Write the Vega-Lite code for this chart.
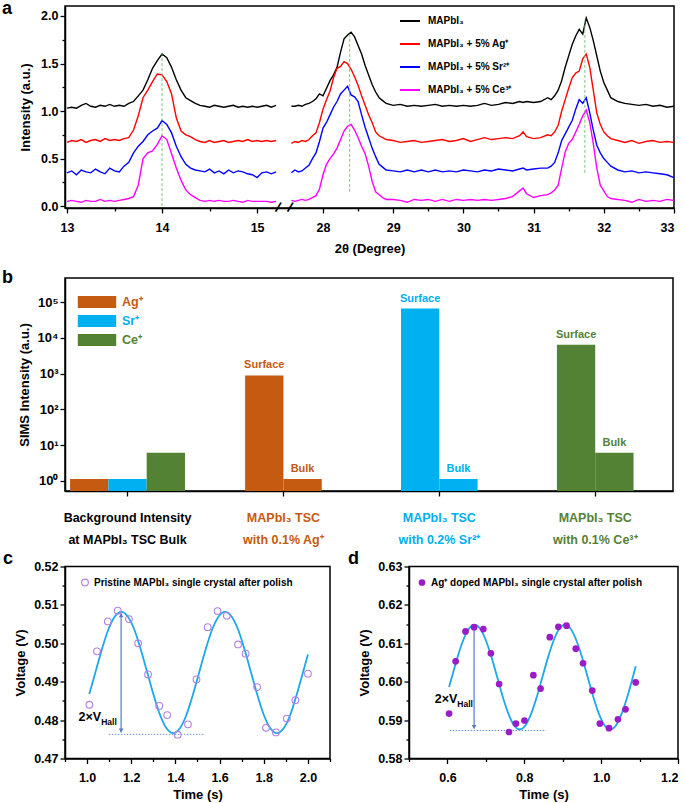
{
"$schema": "https://vega.github.io/schema/vega-lite/v6.json",
"background": "white",
"padding": {"left": 1, "top": -1, "right": 6, "bottom": 2},
"config": {
  "font": "Liberation Sans",
  "view": {"stroke": "black", "strokeWidth": 1.5},
  "axis": {"grid": false, "domainColor": "black", "domainWidth": 1.5, "tickColor": "black", "tickWidth": 1.3, "tickSize": 5, "labelFont": "Liberation Sans", "labelFontSize": 12.5, "labelFontWeight": "bold", "labelColor": "black", "labelPadding": 2, "titleFont": "Liberation Sans", "titleFontSize": 13, "titleFontWeight": "bold", "titleColor": "black"},
  "legend": {"labelFont": "Liberation Sans", "labelFontWeight": "bold", "labelColor": "black", "padding": 0, "labelLimit": 400},
  "title": {"font": "Liberation Sans", "fontSize": 18, "fontWeight": "bold", "color": "black", "anchor": "start", "frame": "group", "offset": 0, "baseline": "alphabetic"}
},
"datasets": {
  "xrd": [
    {"p":"L","x":13.0,"k":1.03,"r":0.67,"b":0.35,"m":0.05},
    {"p":"L","x":13.05,"k":1.04,"r":0.69,"b":0.37,"m":0.06},
    {"p":"L","x":13.1,"k":1.03,"r":0.68,"b":0.33,"m":0.05},
    {"p":"L","x":13.15,"k":1.06,"r":0.7,"b":0.38,"m":0.04},
    {"p":"L","x":13.2,"k":1.08,"r":0.67,"b":0.36,"m":0.06},
    {"p":"L","x":13.25,"k":1.05,"r":0.69,"b":0.35,"m":0.05},
    {"p":"L","x":13.3,"k":1.04,"r":0.7,"b":0.39,"m":0.05},
    {"p":"L","x":13.35,"k":1.06,"r":0.68,"b":0.36,"m":0.07},
    {"p":"L","x":13.4,"k":1.05,"r":0.71,"b":0.34,"m":0.05},
    {"p":"L","x":13.45,"k":1.07,"r":0.69,"b":0.4,"m":0.06},
    {"p":"L","x":13.5,"k":1.05,"r":0.7,"b":0.37,"m":0.05},
    {"p":"L","x":13.55,"k":1.06,"r":0.69,"b":0.36,"m":0.06},
    {"p":"L","x":13.6,"k":1.05,"r":0.71,"b":0.42,"m":0.07},
    {"p":"L","x":13.65,"k":1.08,"r":0.72,"b":0.46,"m":0.08},
    {"p":"L","x":13.7,"k":1.1,"r":0.8,"b":0.56,"m":0.1},
    {"p":"L","x":13.75,"k":1.16,"r":0.95,"b":0.63,"m":0.22},
    {"p":"L","x":13.8,"k":1.22,"r":1.14,"b":0.68,"m":0.5},
    {"p":"L","x":13.85,"k":1.33,"r":1.22,"b":0.75,"m":0.56},
    {"p":"L","x":13.9,"k":1.45,"r":1.31,"b":0.79,"m":0.58},
    {"p":"L","x":13.95,"k":1.53,"r":1.39,"b":0.82,"m":0.65},
    {"p":"L","x":14.0,"k":1.6,"r":1.38,"b":0.9,"m":0.74},
    {"p":"L","x":14.05,"k":1.56,"r":1.31,"b":0.86,"m":0.7},
    {"p":"L","x":14.1,"k":1.46,"r":1.18,"b":0.77,"m":0.55},
    {"p":"L","x":14.15,"k":1.33,"r":0.93,"b":0.63,"m":0.4},
    {"p":"L","x":14.2,"k":1.22,"r":0.79,"b":0.52,"m":0.27},
    {"p":"L","x":14.25,"k":1.14,"r":0.75,"b":0.44,"m":0.17},
    {"p":"L","x":14.3,"k":1.11,"r":0.73,"b":0.4,"m":0.12},
    {"p":"L","x":14.35,"k":1.08,"r":0.7,"b":0.38,"m":0.09},
    {"p":"L","x":14.4,"k":1.06,"r":0.68,"b":0.37,"m":0.06},
    {"p":"L","x":14.45,"k":1.05,"r":0.67,"b":0.36,"m":0.05},
    {"p":"L","x":14.5,"k":1.04,"r":0.69,"b":0.39,"m":0.06},
    {"p":"L","x":14.55,"k":1.06,"r":0.67,"b":0.35,"m":0.05},
    {"p":"L","x":14.6,"k":1.05,"r":0.68,"b":0.37,"m":0.06},
    {"p":"L","x":14.65,"k":1.04,"r":0.69,"b":0.34,"m":0.05},
    {"p":"L","x":14.7,"k":1.05,"r":0.67,"b":0.38,"m":0.05},
    {"p":"L","x":14.75,"k":1.06,"r":0.68,"b":0.35,"m":0.06},
    {"p":"L","x":14.8,"k":1.04,"r":0.69,"b":0.37,"m":0.05},
    {"p":"L","x":14.85,"k":1.05,"r":0.68,"b":0.36,"m":0.04},
    {"p":"L","x":14.9,"k":1.04,"r":0.7,"b":0.34,"m":0.06},
    {"p":"L","x":14.95,"k":1.05,"r":0.68,"b":0.33,"m":0.05},
    {"p":"L","x":15.0,"k":1.04,"r":0.69,"b":0.3,"m":0.05},
    {"p":"L","x":15.05,"k":1.05,"r":0.68,"b":0.35,"m":0.05},
    {"p":"L","x":15.1,"k":1.06,"r":0.69,"b":0.36,"m":0.05},
    {"p":"L","x":15.15,"k":1.04,"r":0.68,"b":0.34,"m":0.04},
    {"p":"L","x":15.2,"k":1.06,"r":0.69,"b":0.36,"m":0.05},
    {"p":"R","x":27.55,"k":1.05,"r":0.66,"b":0.35,"m":0.06},
    {"p":"R","x":27.6,"k":1.05,"r":0.68,"b":0.38,"m":0.05},
    {"p":"R","x":27.65,"k":1.06,"r":0.67,"b":0.36,"m":0.06},
    {"p":"R","x":27.7,"k":1.05,"r":0.69,"b":0.37,"m":0.07},
    {"p":"R","x":27.75,"k":1.07,"r":0.68,"b":0.4,"m":0.06},
    {"p":"R","x":27.8,"k":1.08,"r":0.7,"b":0.43,"m":0.07},
    {"p":"R","x":27.85,"k":1.1,"r":0.74,"b":0.5,"m":0.09},
    {"p":"R","x":27.9,"k":1.13,"r":0.77,"b":0.56,"m":0.11},
    {"p":"R","x":27.95,"k":1.18,"r":0.88,"b":0.68,"m":0.18},
    {"p":"R","x":28.0,"k":1.16,"r":1.02,"b":0.82,"m":0.33},
    {"p":"R","x":28.05,"k":1.24,"r":1.12,"b":0.88,"m":0.44},
    {"p":"R","x":28.1,"k":1.32,"r":1.21,"b":0.96,"m":0.5},
    {"p":"R","x":28.15,"k":1.38,"r":1.35,"b":1.04,"m":0.55},
    {"p":"R","x":28.2,"k":1.46,"r":1.45,"b":1.1,"m":0.61},
    {"p":"R","x":28.25,"k":1.62,"r":1.47,"b":1.18,"m":0.7},
    {"p":"R","x":28.3,"k":1.76,"r":1.52,"b":1.22,"m":0.79},
    {"p":"R","x":28.35,"k":1.8,"r":1.5,"b":1.26,"m":0.84},
    {"p":"R","x":28.4,"k":1.83,"r":1.44,"b":1.17,"m":0.86},
    {"p":"R","x":28.45,"k":1.78,"r":1.36,"b":1.15,"m":0.8},
    {"p":"R","x":28.5,"k":1.69,"r":1.27,"b":1.1,"m":0.72},
    {"p":"R","x":28.55,"k":1.6,"r":1.16,"b":0.96,"m":0.63},
    {"p":"R","x":28.6,"k":1.48,"r":1.06,"b":0.83,"m":0.55},
    {"p":"R","x":28.65,"k":1.38,"r":0.96,"b":0.72,"m":0.42},
    {"p":"R","x":28.7,"k":1.28,"r":0.88,"b":0.61,"m":0.26},
    {"p":"R","x":28.75,"k":1.2,"r":0.78,"b":0.52,"m":0.15},
    {"p":"R","x":28.8,"k":1.14,"r":0.74,"b":0.44,"m":0.12},
    {"p":"R","x":28.85,"k":1.11,"r":0.72,"b":0.41,"m":0.09},
    {"p":"R","x":28.9,"k":1.08,"r":0.7,"b":0.38,"m":0.07},
    {"p":"R","x":29.0,"k":1.06,"r":0.69,"b":0.37,"m":0.07},
    {"p":"R","x":29.1,"k":1.07,"r":0.67,"b":0.36,"m":0.06},
    {"p":"R","x":29.2,"k":1.05,"r":0.68,"b":0.38,"m":0.04},
    {"p":"R","x":29.3,"k":1.06,"r":0.69,"b":0.36,"m":0.07},
    {"p":"R","x":29.4,"k":1.05,"r":0.67,"b":0.38,"m":0.06},
    {"p":"R","x":29.5,"k":1.06,"r":0.68,"b":0.36,"m":0.07},
    {"p":"R","x":29.6,"k":1.07,"r":0.69,"b":0.38,"m":0.05},
    {"p":"R","x":29.7,"k":1.05,"r":0.7,"b":0.36,"m":0.07},
    {"p":"R","x":29.8,"k":1.06,"r":0.68,"b":0.37,"m":0.05},
    {"p":"R","x":29.9,"k":1.05,"r":0.69,"b":0.36,"m":0.07},
    {"p":"R","x":30.0,"k":1.06,"r":0.71,"b":0.38,"m":0.06},
    {"p":"R","x":30.1,"k":1.05,"r":0.68,"b":0.37,"m":0.07},
    {"p":"R","x":30.2,"k":1.06,"r":0.7,"b":0.36,"m":0.06},
    {"p":"R","x":30.3,"k":1.08,"r":0.72,"b":0.38,"m":0.07},
    {"p":"R","x":30.4,"k":1.06,"r":0.7,"b":0.37,"m":0.06},
    {"p":"R","x":30.5,"k":1.07,"r":0.71,"b":0.39,"m":0.07},
    {"p":"R","x":30.6,"k":1.09,"r":0.72,"b":0.38,"m":0.08},
    {"p":"R","x":30.7,"k":1.08,"r":0.71,"b":0.37,"m":0.1},
    {"p":"R","x":30.8,"k":1.1,"r":0.74,"b":0.39,"m":0.16},
    {"p":"R","x":30.85,"k":1.09,"r":0.78,"b":0.4,"m":0.19},
    {"p":"R","x":30.9,"k":1.1,"r":0.73,"b":0.38,"m":0.13},
    {"p":"R","x":31.0,"k":1.09,"r":0.71,"b":0.39,"m":0.09},
    {"p":"R","x":31.1,"k":1.1,"r":0.72,"b":0.4,"m":0.11},
    {"p":"R","x":31.2,"k":1.14,"r":0.75,"b":0.4,"m":0.12},
    {"p":"R","x":31.25,"k":1.12,"r":0.74,"b":0.42,"m":0.14},
    {"p":"R","x":31.3,"k":1.16,"r":0.78,"b":0.46,"m":0.17},
    {"p":"R","x":31.35,"k":1.22,"r":0.85,"b":0.56,"m":0.22},
    {"p":"R","x":31.4,"k":1.32,"r":1.0,"b":0.69,"m":0.4},
    {"p":"R","x":31.45,"k":1.46,"r":1.12,"b":0.76,"m":0.57},
    {"p":"R","x":31.5,"k":1.58,"r":1.24,"b":0.83,"m":0.66},
    {"p":"R","x":31.55,"k":1.7,"r":1.35,"b":0.9,"m":0.7},
    {"p":"R","x":31.6,"k":1.79,"r":1.4,"b":1.02,"m":0.78},
    {"p":"R","x":31.65,"k":1.86,"r":1.42,"b":1.12,"m":0.86},
    {"p":"R","x":31.7,"k":1.81,"r":1.55,"b":1.08,"m":0.95},
    {"p":"R","x":31.75,"k":1.98,"r":1.6,"b":1.14,"m":1.01},
    {"p":"R","x":31.8,"k":1.88,"r":1.46,"b":0.98,"m":0.88},
    {"p":"R","x":31.85,"k":1.74,"r":1.22,"b":0.8,"m":0.66},
    {"p":"R","x":31.9,"k":1.58,"r":0.98,"b":0.64,"m":0.4},
    {"p":"R","x":31.95,"k":1.42,"r":0.86,"b":0.56,"m":0.22},
    {"p":"R","x":32.0,"k":1.3,"r":0.78,"b":0.5,"m":0.16},
    {"p":"R","x":32.05,"k":1.22,"r":0.74,"b":0.46,"m":0.1},
    {"p":"R","x":32.1,"k":1.14,"r":0.71,"b":0.42,"m":0.08},
    {"p":"R","x":32.2,"k":1.1,"r":0.69,"b":0.38,"m":0.07},
    {"p":"R","x":32.3,"k":1.08,"r":0.67,"b":0.36,"m":0.06},
    {"p":"R","x":32.4,"k":1.07,"r":0.69,"b":0.37,"m":0.04},
    {"p":"R","x":32.5,"k":1.06,"r":0.66,"b":0.35,"m":0.07},
    {"p":"R","x":32.6,"k":1.07,"r":0.68,"b":0.36,"m":0.05},
    {"p":"R","x":32.7,"k":1.05,"r":0.69,"b":0.35,"m":0.06},
    {"p":"R","x":32.8,"k":1.06,"r":0.67,"b":0.34,"m":0.05},
    {"p":"R","x":32.9,"k":1.04,"r":0.68,"b":0.33,"m":0.07},
    {"p":"R","x":33.0,"k":1.05,"r":0.67,"b":0.3,"m":0.06}
  ],
  "sims": [
    {"g":"bg","ion":"Ag⁺","pos":"Ag","val":1.14},
    {"g":"bg","ion":"Sr⁺","pos":"Sr","val":1.14},
    {"g":"bg","ion":"Ce⁺","pos":"Ce","val":6.2},
    {"g":"ag","ion":"Ag⁺","pos":"Surface","val":890},
    {"g":"ag","ion":"Ag⁺","pos":"Bulk","val":1.14},
    {"g":"sr","ion":"Sr⁺","pos":"Surface","val":66000},
    {"g":"sr","ion":"Sr⁺","pos":"Bulk","val":1.14},
    {"g":"ce","ion":"Ce⁺","pos":"Surface","val":6450},
    {"g":"ce","ion":"Ce⁺","pos":"Bulk","val":6.2}
  ],
  "hc": [
    {"s":"Pristine MAPbI₃ single crystal after polish","t":1.0104,"v":0.484},
    {"s":"Pristine MAPbI₃ single crystal after polish","t":1.0448,"v":0.4979},
    {"s":"Pristine MAPbI₃ single crystal after polish","t":1.094,"v":0.5057},
    {"s":"Pristine MAPbI₃ single crystal after polish","t":1.1388,"v":0.5085},
    {"s":"Pristine MAPbI₃ single crystal after polish","t":1.1896,"v":0.5063},
    {"s":"Pristine MAPbI₃ single crystal after polish","t":1.2313,"v":0.5},
    {"s":"Pristine MAPbI₃ single crystal after polish","t":1.2761,"v":0.4919},
    {"s":"Pristine MAPbI₃ single crystal after polish","t":1.3269,"v":0.4837},
    {"s":"Pristine MAPbI₃ single crystal after polish","t":1.3627,"v":0.4813},
    {"s":"Pristine MAPbI₃ single crystal after polish","t":1.4104,"v":0.4762},
    {"s":"Pristine MAPbI₃ single crystal after polish","t":1.4567,"v":0.4789},
    {"s":"Pristine MAPbI₃ single crystal after polish","t":1.4955,"v":0.4906},
    {"s":"Pristine MAPbI₃ single crystal after polish","t":1.5463,"v":0.5042},
    {"s":"Pristine MAPbI₃ single crystal after polish","t":1.591,"v":0.5084},
    {"s":"Pristine MAPbI₃ single crystal after polish","t":1.6328,"v":0.5072},
    {"s":"Pristine MAPbI₃ single crystal after polish","t":1.6836,"v":0.4997},
    {"s":"Pristine MAPbI₃ single crystal after polish","t":1.7179,"v":0.4973},
    {"s":"Pristine MAPbI₃ single crystal after polish","t":1.7701,"v":0.4886},
    {"s":"Pristine MAPbI₃ single crystal after polish","t":1.8104,"v":0.478},
    {"s":"Pristine MAPbI₃ single crystal after polish","t":1.8552,"v":0.4768},
    {"s":"Pristine MAPbI₃ single crystal after polish","t":1.9045,"v":0.4804},
    {"s":"Pristine MAPbI₃ single crystal after polish","t":1.9433,"v":0.4852},
    {"s":"Pristine MAPbI₃ single crystal after polish","t":2.0,"v":0.4921}
  ],
  "hcfit": [
    {"t":1.01,"v":0.4868},{"t":1.0375,"v":0.4924},{"t":1.0669,"v":0.4984},{"t":1.0963,"v":0.5036},{"t":1.1256,"v":0.507},{"t":1.155,"v":0.5082},{"t":1.1844,"v":0.507},{"t":1.2138,"v":0.5036},{"t":1.2431,"v":0.4984},{"t":1.2725,"v":0.4924},{"t":1.3019,"v":0.4864},{"t":1.3313,"v":0.4812},{"t":1.3606,"v":0.4778},{"t":1.39,"v":0.4766},{"t":1.4194,"v":0.4778},{"t":1.4488,"v":0.4812},{"t":1.4781,"v":0.4864},{"t":1.5075,"v":0.4924},{"t":1.5369,"v":0.4984},{"t":1.5663,"v":0.5036},{"t":1.5956,"v":0.507},{"t":1.625,"v":0.5082},{"t":1.6544,"v":0.507},{"t":1.6838,"v":0.5036},{"t":1.7131,"v":0.4984},{"t":1.7425,"v":0.4924},{"t":1.7719,"v":0.4864},{"t":1.8013,"v":0.4812},{"t":1.8306,"v":0.4778},{"t":1.86,"v":0.4766},{"t":1.8894,"v":0.4778},{"t":1.9188,"v":0.4812},{"t":1.9481,"v":0.4864},{"t":1.9775,"v":0.4924},{"t":2.0,"v":0.4971}
  ],
  "hd": [
    {"s":"Ag⁺ doped MAPbI₃ single crystal after polish","t":0.6043,"v":0.5917},
    {"s":"Ag⁺ doped MAPbI₃ single crystal after polish","t":0.6214,"v":0.6053},
    {"s":"Ag⁺ doped MAPbI₃ single crystal after polish","t":0.6471,"v":0.6131},
    {"s":"Ag⁺ doped MAPbI₃ single crystal after polish","t":0.6694,"v":0.6142},
    {"s":"Ag⁺ doped MAPbI₃ single crystal after polish","t":0.6934,"v":0.6137},
    {"s":"Ag⁺ doped MAPbI₃ single crystal after polish","t":0.7131,"v":0.6074},
    {"s":"Ag⁺ doped MAPbI₃ single crystal after polish","t":0.7345,"v":0.5994},
    {"s":"Ag⁺ doped MAPbI₃ single crystal after polish","t":0.7602,"v":0.5869},
    {"s":"Ag⁺ doped MAPbI₃ single crystal after polish","t":0.7782,"v":0.5891},
    {"s":"Ag⁺ doped MAPbI₃ single crystal after polish","t":0.8004,"v":0.5899},
    {"s":"Ag⁺ doped MAPbI₃ single crystal after polish","t":0.8236,"v":0.6017},
    {"s":"Ag⁺ doped MAPbI₃ single crystal after polish","t":0.8424,"v":0.5982},
    {"s":"Ag⁺ doped MAPbI₃ single crystal after polish","t":0.8664,"v":0.6116},
    {"s":"Ag⁺ doped MAPbI₃ single crystal after polish","t":0.8887,"v":0.6143},
    {"s":"Ag⁺ doped MAPbI₃ single crystal after polish","t":0.91,"v":0.6146},
    {"s":"Ag⁺ doped MAPbI₃ single crystal after polish","t":0.934,"v":0.6086},
    {"s":"Ag⁺ doped MAPbI₃ single crystal after polish","t":0.9529,"v":0.6048},
    {"s":"Ag⁺ doped MAPbI₃ single crystal after polish","t":0.9769,"v":0.5977},
    {"s":"Ag⁺ doped MAPbI₃ single crystal after polish","t":0.9966,"v":0.5891},
    {"s":"Ag⁺ doped MAPbI₃ single crystal after polish","t":1.0205,"v":0.5879},
    {"s":"Ag⁺ doped MAPbI₃ single crystal after polish","t":1.0437,"v":0.5902},
    {"s":"Ag⁺ doped MAPbI₃ single crystal after polish","t":1.0634,"v":0.5928},
    {"s":"Ag⁺ doped MAPbI₃ single crystal after polish","t":1.0899,"v":0.5998}
  ],
  "hdfit": [
    {"t":0.6043,"v":0.5986},{"t":0.6116,"v":0.6012},{"t":0.6263,"v":0.6064},{"t":0.6411,"v":0.6108},{"t":0.6558,"v":0.6138},{"t":0.6705,"v":0.6148},{"t":0.6852,"v":0.6138},{"t":0.6999,"v":0.6108},{"t":0.7147,"v":0.6064},{"t":0.7294,"v":0.6012},{"t":0.7441,"v":0.596},{"t":0.7588,"v":0.5916},{"t":0.7735,"v":0.5886},{"t":0.7883,"v":0.5876},{"t":0.803,"v":0.5886},{"t":0.8177,"v":0.5916},{"t":0.8324,"v":0.596},{"t":0.8471,"v":0.6012},{"t":0.8619,"v":0.6064},{"t":0.8766,"v":0.6108},{"t":0.8913,"v":0.6138},{"t":0.906,"v":0.6148},{"t":0.9207,"v":0.6138},{"t":0.9354,"v":0.6108},{"t":0.9502,"v":0.6064},{"t":0.9649,"v":0.6012},{"t":0.9796,"v":0.596},{"t":0.9943,"v":0.5916},{"t":1.009,"v":0.5886},{"t":1.0238,"v":0.5876},{"t":1.0385,"v":0.5886},{"t":1.0532,"v":0.5916},{"t":1.0679,"v":0.596},{"t":1.0826,"v":0.6012},{"t":1.09,"v":0.604}
  ]
},
"spacing": 1.5,
"bounds": "full",
"resolve": {"scale": {"color": "independent"}},
"vconcat": [
  {
    "spacing": 70,
    "bounds": "flush",
    "resolve": {"scale": {"color": "independent"}},
    "vconcat": [
      {
        "width": 609, "height": 202,
        "title": {"text": "a", "dx": -63, "dy": 12, "offset": 0},
        "resolve": {"axis": {"x": "independent", "y": "independent"}},
        "layer": [
          {
            "data": {"name": "xrd"},
            "transform": [{"fold": ["k","r","b","m"], "as": ["s","v"]}],
            "mark": {"type": "line", "strokeWidth": 1.4},
            "encoding": {
              "x": {"field": "x", "type": "quantitative", "scale": {"domain": [12.979,15.22,27.53,33], "range": [0,213,225,609], "nice": false, "zero": false}, "axis": {"orient": "bottom", "values": [13,14,15,28,29,30,31,32,33], "title": "2θ (Degree)", "titlePadding": 9, "labelPadding": 8}},
              "y": {"field": "v", "type": "quantitative", "scale": {"domain": [-0.02, 2.105], "nice": false, "zero": false}, "axis": {"orient": "left", "values": [0,0.5,1,1.5,2], "format": ".1f", "title": "Intensity (a.u.)", "titlePadding": 8}},
              "color": {"field": "s", "type": "nominal", "scale": {"domain": ["k","r","b","m"], "range": ["#000000","#ff0000","#0000ff","#ff00ff"]}, "legend": {"orient": "none", "legendX": 334, "legendY": 4, "title": null, "symbolType": "stroke", "symbolSize": 400, "symbolStrokeWidth": 2, "labelFontSize": 10, "rowPadding": 7, "labelOffset": 7, "labelExpr": "{'k':'MAPbI₃','r':'MAPbI₃ + 5% Ag⁺','b':'MAPbI₃ + 5% Sr²⁺','m':'MAPbI₃ + 5% Ce³⁺'}[datum.value]"}},
              "detail": {"field": "p", "type": "nominal"}
            }
          },
          {
            "data": {"values": [{"x":14.0,"y":0.0,"y2":1.6},{"x":28.38,"y":0.15,"y2":1.8},{"x":31.73,"y":0.35,"y2":1.97}]},
            "mark": {"type": "rule", "color": "#6cbf6c", "strokeDash": [3,2], "strokeWidth": 0.9},
            "encoding": {
              "x": {"field": "x", "type": "quantitative", "scale": {"domain": [12.979,15.22,27.53,33], "range": [0,213,225,609], "nice": false, "zero": false}, "axis": {"orient": "bottom", "values": [13.5,14.5,28.5,29.5,30.5,31.5,32.5], "labels": false, "domain": false, "tickSize": 3, "title": null}},
              "y": {"field": "y", "type": "quantitative", "scale": {"domain": [-0.02, 2.105], "nice": false, "zero": false}, "axis": {"orient": "left", "values": [0.25,0.75,1.25,1.75], "labels": false, "domain": false, "tickSize": 3, "title": null}},
              "y2": {"field": "y2"}
            }
          },
          {
            "data": {"values": [{"x":15.22,"y":-0.02},{"x":27.53,"y":-0.02}]},
            "mark": {"type": "text", "text": "/", "fontSize": 14, "fontWeight": "bold", "angle": 20, "baseline": "middle"},
            "encoding": {
              "x": {"field": "x", "type": "quantitative", "scale": {"domain": [12.979,15.22,27.53,33], "range": [0,213,225,609], "nice": false, "zero": false}, "axis": null},
              "y": {"field": "y", "type": "quantitative", "scale": {"domain": [-0.02, 2.105], "nice": false, "zero": false}, "axis": null}
            }
          }
        ]
      },
      {
        "width": 608, "height": 213,
        "title": {"text": "b", "dx": -63, "dy": 9, "offset": 0},
        "data": {"name": "sims"},
        "resolve": {"scale": {"xOffset": "independent"}},
        "layer": [
          {
            "transform": [{"filter": "datum.g == 'bg'"}],
            "mark": {"type": "bar"},
            "encoding": {
              "x": {"field": "g", "type": "nominal", "sort": ["bg","ag","sr","ce"], "scale": {"domain": ["bg","ag","sr","ce"], "paddingInner": 0.263, "paddingOuter": 0.0815, "align": 0.2}, "axis": {"title": null, "labelAngle": 0, "labelExpr": "{'bg':['Background Intensity','at MAPbI₃ TSC Bulk'],'ag':['MAPbI₃ TSC','with 0.1% Ag⁺'],'sr':['MAPbI₃ TSC','with 0.2% Sr²⁺'],'ce':['MAPbI₃ TSC','with 0.1% Ce³⁺']}[datum.value]", "labelColor": {"condition": [{"test": "datum.value == 'ag'", "value": "#C55A11"}, {"test": "datum.value == 'sr'", "value": "#00B0F0"}, {"test": "datum.value == 'ce'", "value": "#548235"}], "value": "black"}, "labelLineHeight": 21.5, "labelPadding": 15.5, "labelBaseline": "top", "labelFontSize": 12.5}},
              "xOffset": {"field": "ion", "type": "nominal", "scale": {"domain": ["Ag⁺","Sr⁺","Ce⁺"], "paddingInner": 0, "paddingOuter": 0}},
              "y": {"field": "val", "type": "quantitative", "scale": {"type": "log", "domain": [0.525, 470000], "nice": false}, "axis": {"values": [1,10,100,1000,10000,100000], "labelExpr": "'10' + ['⁰','¹','²','³','⁴','⁵'][round(log(datum.value)/LN10)]", "title": "SIMS Intensity (a.u.)", "labelFontSize": 13, "titlePadding": 6}},
              "y2": {"datum": 0.525},
              "color": {"field": "ion", "type": "nominal", "scale": {"domain": ["Ag⁺","Sr⁺","Ce⁺"], "range": ["#C55A11","#00B0F0","#548235"]}, "legend": {"orient": "none", "legendX": 20, "legendY": 12, "title": null, "symbolType": "M-1.6,-0.5H1.6V0.5H-1.6Z", "symbolSize": 576, "symbolStrokeWidth": 0, "symbolOpacity": 1, "labelFontSize": 12.5, "labelOffset": 13, "rowPadding": -4, "encode": {"labels": {"update": {"fill": {"signal": "datum.value == 'Ag⁺' ? '#C55A11' : datum.value == 'Sr⁺' ? '#00B0F0' : '#548235'"}}}}}}
            }
          },
          {
            "transform": [{"filter": "datum.g != 'bg'"}],
            "encoding": {
              "x": {"field": "g", "type": "nominal", "sort": ["bg","ag","sr","ce"], "scale": {"domain": ["bg","ag","sr","ce"], "paddingInner": 0.263, "paddingOuter": 0.0815, "align": 0.2}},
              "xOffset": {"field": "pos", "type": "nominal", "scale": {"domain": ["Surface","Bulk"], "paddingInner": 0, "paddingOuter": 0.5}},
              "y": {"field": "val", "type": "quantitative", "scale": {"type": "log", "domain": [0.525, 470000], "nice": false}},
              "color": {"field": "ion", "type": "nominal", "scale": {"domain": ["Ag⁺","Sr⁺","Ce⁺"], "range": ["#C55A11","#00B0F0","#548235"]}}
            },
            "layer": [
              {"mark": {"type": "bar"}, "encoding": {"y2": {"datum": 0.525}}},
              {"mark": {"type": "text", "fontWeight": "bold", "fontSize": 11, "dy": -7, "baseline": "alphabetic"}, "encoding": {"text": {"field": "pos"}}}
            ]
          }
        ]
      }
    ]
  },
  {
    "spacing": 79,
    "bounds": "flush",
    "resolve": {"scale": {"color": "independent"}},
    "hconcat": [
      {
        "width": 265, "height": 192,
        "title": {"text": "c", "dx": -62, "dy": 7, "offset": 0},
        "resolve": {"axis": {"x": "independent", "y": "independent"}},
        "layer": [
          {
            "data": {"name": "hcfit"},
            "mark": {"type": "line", "interpolate": "monotone", "color": "#1EA7EA", "strokeWidth": 1.8},
            "encoding": {
              "x": {"field": "t", "type": "quantitative", "scale": {"domain": [0.9, 2.1], "nice": false, "zero": false}, "axis": {"orient": "bottom", "values": [1.0,1.2,1.4,1.6,1.8,2.0], "format": ".1f", "title": "Time (s)", "labelPadding": 8, "titlePadding": 4}},
              "y": {"field": "v", "type": "quantitative", "scale": {"domain": [0.47, 0.52], "nice": false, "zero": false}, "axis": {"orient": "left", "values": [0.47,0.48,0.49,0.5,0.51,0.52], "format": ".2f", "title": "Voltage (V)", "titlePadding": 6}}
            }
          },
          {
            "data": {"values": [{"t":1.154,"v":0.5078,"v2":0.4768}]},
            "mark": {"type": "rule", "color": "#5a78c8", "strokeWidth": 1.2},
            "encoding": {
              "x": {"field": "t", "type": "quantitative", "scale": {"domain": [0.9, 2.1], "nice": false, "zero": false}, "axis": {"orient": "bottom", "values": [0.9,1.1,1.3,1.5,1.7,1.9,2.1], "labels": false, "domain": false, "tickSize": 3, "title": null}},
              "y": {"field": "v", "type": "quantitative", "scale": {"domain": [0.47, 0.52], "nice": false, "zero": false}, "axis": {"orient": "left", "values": [0.475,0.485,0.495,0.505,0.515], "labels": false, "domain": false, "tickSize": 3, "title": null}},
              "y2": {"field": "v2"}
            }
          },
          {
            "data": {"values": [{"t":1.154,"v":0.5073,"sh":"triangle-up"},{"t":1.154,"v":0.4773,"sh":"triangle-down"}]},
            "mark": {"type": "point", "filled": true, "size": 22, "color": "#5a78c8", "opacity": 1},
            "encoding": {
              "x": {"field": "t", "type": "quantitative", "axis": null},
              "y": {"field": "v", "type": "quantitative", "axis": null},
              "shape": {"field": "sh", "type": "nominal", "scale": null, "legend": null}
            }
          },
          {
            "data": {"values": [{"t":1.0985,"t2":1.534,"v":0.4763}]},
            "mark": {"type": "rule", "color": "#6a8fd8", "strokeWidth": 1, "strokeDash": [1.5,1.5]},
            "encoding": {
              "x": {"field": "t", "type": "quantitative", "axis": null},
              "x2": {"field": "t2"},
              "y": {"field": "v", "type": "quantitative", "axis": null}
            }
          },
          {
            "data": {"name": "hc"},
            "mark": {"type": "point", "shape": "circle", "filled": false, "size": 45, "strokeWidth": 1.1, "opacity": 1},
            "encoding": {
              "x": {"field": "t", "type": "quantitative", "axis": null},
              "y": {"field": "v", "type": "quantitative", "axis": null},
              "color": {"field": "s", "type": "nominal", "scale": {"range": ["#B57EE5"]}, "legend": {"orient": "none", "legendX": 15, "legendY": 11, "title": null, "labelFontSize": 10, "labelOffset": 4, "symbolSize": 45, "symbolStrokeWidth": 1.1}}
            }
          },
          {
            "data": {"values": [{"t":1.064,"v":0.4808}]},
            "mark": {"type": "text", "text": "2×V", "align": "right", "baseline": "middle", "fontSize": 12.5, "fontWeight": "bold"},
            "encoding": {
              "x": {"field": "t", "type": "quantitative", "axis": null},
              "y": {"field": "v", "type": "quantitative", "axis": null}
            }
          },
          {
            "data": {"values": [{"t":1.064,"v":0.4808}]},
            "mark": {"type": "text", "text": "Hall", "align": "left", "baseline": "middle", "fontSize": 8.5, "fontWeight": "bold", "dy": 5},
            "encoding": {
              "x": {"field": "t", "type": "quantitative", "axis": null},
              "y": {"field": "v", "type": "quantitative", "axis": null}
            }
          }
        ]
      },
      {
        "width": 269, "height": 192,
        "title": {"text": "d", "dx": -61, "dy": 7, "offset": 0},
        "resolve": {"axis": {"x": "independent", "y": "independent"}},
        "layer": [
          {
            "data": {"name": "hdfit"},
            "mark": {"type": "line", "interpolate": "monotone", "color": "#1EA7EA", "strokeWidth": 1.8},
            "encoding": {
              "x": {"field": "t", "type": "quantitative", "scale": {"domain": [0.5, 1.2], "nice": false, "zero": false}, "axis": {"orient": "bottom", "values": [0.6,0.8,1.0,1.2], "format": ".1f", "title": "Time (s)", "labelPadding": 8, "titlePadding": 4}},
              "y": {"field": "v", "type": "quantitative", "scale": {"domain": [0.58, 0.63], "nice": false, "zero": false}, "axis": {"orient": "left", "values": [0.58,0.59,0.6,0.61,0.62,0.63], "format": ".2f", "title": "Voltage (V)", "titlePadding": 6}}
            }
          },
          {
            "data": {"values": [{"t":0.6694,"v":0.6144,"v2":0.5878}]},
            "mark": {"type": "rule", "color": "#5a78c8", "strokeWidth": 1.2},
            "encoding": {
              "x": {"field": "t", "type": "quantitative", "scale": {"domain": [0.5, 1.2], "nice": false, "zero": false}, "axis": {"orient": "bottom", "values": [0.5,0.7,0.9,1.1], "labels": false, "domain": false, "tickSize": 3, "title": null}},
              "y": {"field": "v", "type": "quantitative", "scale": {"domain": [0.58, 0.63], "nice": false, "zero": false}, "axis": {"orient": "left", "values": [0.585,0.595,0.605,0.615,0.625], "labels": false, "domain": false, "tickSize": 3, "title": null}},
              "y2": {"field": "v2"}
            }
          },
          {
            "data": {"values": [{"t":0.6694,"v":0.5882,"sh":"triangle-down"}]},
            "mark": {"type": "point", "filled": true, "size": 22, "color": "#5a78c8", "opacity": 1},
            "encoding": {
              "x": {"field": "t", "type": "quantitative", "axis": null},
              "y": {"field": "v", "type": "quantitative", "axis": null},
              "shape": {"field": "sh", "type": "nominal", "scale": null, "legend": null}
            }
          },
          {
            "data": {"values": [{"t":0.606,"t2":0.857,"v":0.5873}]},
            "mark": {"type": "rule", "color": "#6a8fd8", "strokeWidth": 1, "strokeDash": [1.5,1.5]},
            "encoding": {
              "x": {"field": "t", "type": "quantitative", "axis": null},
              "x2": {"field": "t2"},
              "y": {"field": "v", "type": "quantitative", "axis": null}
            }
          },
          {
            "data": {"name": "hd"},
            "mark": {"type": "point", "shape": "circle", "filled": true, "size": 45, "opacity": 1},
            "encoding": {
              "x": {"field": "t", "type": "quantitative", "axis": null},
              "y": {"field": "v", "type": "quantitative", "axis": null},
              "color": {"field": "s", "type": "nominal", "scale": {"range": ["#9B1BC7"]}, "legend": {"orient": "none", "legendX": 8, "legendY": 11, "title": null, "labelFontSize": 10, "labelOffset": 4, "symbolSize": 45}}
            }
          },
          {
            "data": {"values": [{"t":0.6257,"v":0.5956}]},
            "mark": {"type": "text", "text": "2×V", "align": "right", "baseline": "middle", "fontSize": 12.5, "fontWeight": "bold"},
            "encoding": {
              "x": {"field": "t", "type": "quantitative", "axis": null},
              "y": {"field": "v", "type": "quantitative", "axis": null}
            }
          },
          {
            "data": {"values": [{"t":0.6257,"v":0.5956}]},
            "mark": {"type": "text", "text": "Hall", "align": "left", "baseline": "middle", "fontSize": 8.5, "fontWeight": "bold", "dy": 5},
            "encoding": {
              "x": {"field": "t", "type": "quantitative", "axis": null},
              "y": {"field": "v", "type": "quantitative", "axis": null}
            }
          }
        ]
      }
    ]
  }
]
}
